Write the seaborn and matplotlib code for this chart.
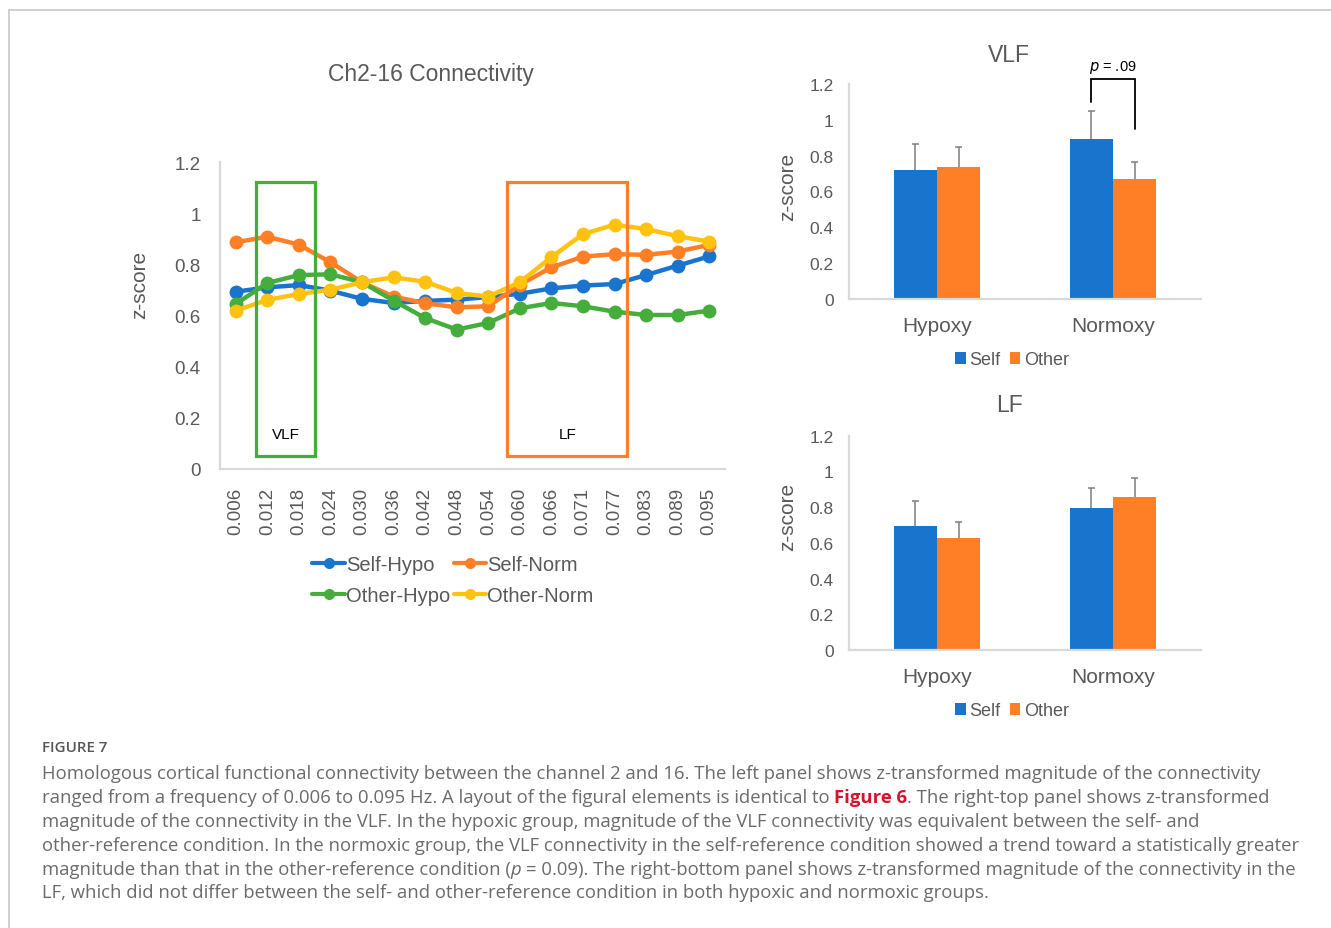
import matplotlib
matplotlib.use("Agg")
import matplotlib.pyplot as plt
from matplotlib.patches import Rectangle
from matplotlib.lines import Line2D
from matplotlib.ticker import FuncFormatter
import seaborn as sns
import pandas as pd
import numpy as np

# ---------------- data ----------------
freqs = ["0.006", "0.012", "0.018", "0.024", "0.030", "0.036", "0.042", "0.048",
         "0.054", "0.060", "0.066", "0.071", "0.077", "0.083", "0.089", "0.095"]
self_hypo = [0.693, 0.710, 0.719, 0.697, 0.665, 0.649, 0.657, 0.662,
             0.672, 0.685, 0.706, 0.717, 0.723, 0.758, 0.795, 0.831]
self_norm = [0.886, 0.908, 0.877, 0.808, 0.730, 0.674, 0.648, 0.632,
             0.636, 0.720, 0.788, 0.830, 0.840, 0.837, 0.850, 0.876]
other_hypo = [0.645, 0.727, 0.758, 0.761, 0.730, 0.658, 0.590, 0.545,
              0.571, 0.628, 0.649, 0.636, 0.615, 0.602, 0.602, 0.619]
other_norm = [0.619, 0.661, 0.684, 0.701, 0.730, 0.749, 0.732, 0.688,
              0.674, 0.730, 0.828, 0.918, 0.955, 0.938, 0.910, 0.889]
series_names = ["Self-Hypo", "Self-Norm", "Other-Hypo", "Other-Norm"]

# frequency bands highlighted (index range on the category axis, z range)
band_labels = ["VLF", "LF"]
band_x = [(0.635, 2.51), (8.6, 12.41)]
band_y = (0.05, 1.12)

groups = ["Hypoxy", "Normoxy"]
conds = ["Self", "Other"]
vlf_self = [0.720, 0.893]
vlf_other = [0.738, 0.670]
vlf_self_err = [0.145, 0.158]
vlf_other_err = [0.108, 0.096]
lf_self = [0.696, 0.793]
lf_other = [0.627, 0.855]
lf_self_err = [0.140, 0.112]
lf_other_err = [0.090, 0.110]
p_text = ".09"

# ---------------- style ----------------
sns.set_style("white")
plt.rcParams["font.family"] = ["Liberation Sans", "DejaVu Sans"]

BLUE = "#1874CD"
ORANGE = "#FF7F27"
GREEN = "#45AD3B"
YELLOW = "#FFC20E"
TXT = "#595959"
AXC = "#D9D9D9"

W, H = 1331, 929
fig = plt.figure(figsize=(W / 100, H / 100), dpi=100)
fig.patch.set_facecolor("white")


def px(x, y):
    return x / W, 1 - y / H


# ---------------- left line chart ----------------
ax = fig.add_axes([220 / W, 1 - 470 / H, 505 / W, 307 / H])
df = pd.DataFrame({
    "freq": freqs * 4,
    "z": self_hypo + self_norm + other_hypo + other_norm,
    "series": sum([[s] * len(freqs) for s in series_names], []),
})
sns.lineplot(data=df, x="freq", y="z", hue="series", hue_order=series_names,
             palette=[BLUE, ORANGE, GREEN, YELLOW], marker="o", markersize=10,
             markeredgewidth=0, linewidth=3.2, sort=False, ax=ax, legend=True)
ax.set_xlim(-0.5, 15.5)
ax.set_ylim(0, 1.2)
ax.set_yticks(np.arange(0, 1.21, 0.2))
ax.yaxis.set_major_formatter(FuncFormatter(lambda v, p: f"{v:g}"))
ax.set_xlabel("")
ax.set_ylabel("")
for s in ["top", "right"]:
    ax.spines[s].set_visible(False)
for s in ["left", "bottom"]:
    ax.spines[s].set_color(AXC)
    ax.spines[s].set_linewidth(1.6)
ax.tick_params(axis="y", direction="in", length=4, color=AXC, labelsize=13.5,
               labelcolor=TXT, pad=14)
ax.tick_params(axis="x", length=0, labelsize=13.5, labelcolor=TXT, pad=13,
               labelrotation=90)

band_colors = [GREEN, ORANGE]
for (x0, x1), lab, c in zip(band_x, band_labels, band_colors):
    ax.add_patch(Rectangle((x0, band_y[0]), x1 - x0, band_y[1] - band_y[0],
                           fill=False, edgecolor=c, linewidth=2.3, zorder=5))
    ax.text((x0 + x1) / 2, 0.137, lab, ha="center", va="center",
            fontsize=11, color="black", zorder=6)

handles, labels = ax.get_legend_handles_labels()
ax.get_legend().remove()
order = [0, 2, 1, 3]
leg_handles = []
for i in order:
    h = handles[i]
    leg_handles.append(Line2D([], [], color=h.get_color(), linewidth=3,
                              marker="o", markersize=8, markeredgewidth=0))
fig.legend(leg_handles, [labels[i] for i in order], ncol=2,
           loc="center", bbox_to_anchor=px(453, 581), frameon=False,
           fontsize=14.5, labelcolor=TXT, handlelength=1.6, handletextpad=0.05,
           columnspacing=0.2, labelspacing=0.6)

fig.text(*px(431, 74), "Ch2-16 Connectivity", ha="center", va="center",
         fontsize=16.5, color=TXT)
fig.text(*px(140, 285), "z-score", ha="center", va="center", rotation=90,
         fontsize=15, color=TXT)


# ---------------- bar charts ----------------
def bar_panel(rect, self_vals, other_vals, self_err, other_err, title,
              title_y, ylabel_y, legend_y):
    bax = fig.add_axes(rect)
    bdf = pd.DataFrame({
        "group": groups * 2,
        "cond": [conds[0]] * len(groups) + [conds[1]] * len(groups),
        "z": self_vals + other_vals,
    })
    sns.barplot(data=bdf, x="group", y="z", hue="cond", hue_order=conds,
                palette=[BLUE, ORANGE], width=0.49, errorbar=None,
                saturation=1, ax=bax, edgecolor="none")
    bax.set_xlim(-0.5, 1.5)
    bax.set_ylim(0, 1.2)
    bax.set_yticks(np.arange(0, 1.21, 0.2))
    bax.yaxis.set_major_formatter(FuncFormatter(lambda v, p: f"{v:g}"))
    bax.set_xlabel("")
    bax.set_ylabel("")
    for s in ["top", "right"]:
        bax.spines[s].set_visible(False)
    for s in ["left", "bottom"]:
        bax.spines[s].set_color(AXC)
        bax.spines[s].set_linewidth(1.6)
    bax.tick_params(axis="y", direction="in", length=4, color=AXC,
                    labelsize=12.5, labelcolor=TXT, pad=11)
    bax.tick_params(axis="x", length=0, labelsize=15, labelcolor=TXT, pad=12.5)

    errs = [self_err, other_err]
    centers = []
    for cont, err in zip(bax.containers, errs):
        row = []
        for bar, e in zip(cont, err):
            xc = bar.get_x() + bar.get_width() / 2
            top = bar.get_height()
            row.append((xc, top))
            bax.vlines(xc, top, top + e, color="#7F7F7F", linewidth=1.1,
                       zorder=4)
            bax.hlines(top + e, xc - 0.018, xc + 0.018, color="#7F7F7F",
                       linewidth=1.1, zorder=4)
        centers.append(row)

    h, l = bax.get_legend_handles_labels()
    if bax.get_legend() is not None:
        bax.get_legend().remove()
    fig.legend(h, l, ncol=2, loc="center", bbox_to_anchor=px(1012, legend_y),
               frameon=False, fontsize=13, labelcolor=TXT, handlelength=0.6,
               handleheight=0.6, handletextpad=0.2, columnspacing=0.5)
    fig.text(*px(1009, title_y), title, ha="center", va="center",
             fontsize=16.5, color=TXT)
    fig.text(*px(788, ylabel_y), "z-score", ha="center", va="center",
             rotation=90, fontsize=15, color=TXT)
    return bax, centers


vax, vc = bar_panel([849 / W, 1 - 300 / H, 352 / W, 215 / H],
                    vlf_self, vlf_other, vlf_self_err, vlf_other_err,
                    "VLF", 55, 187, 361)
lax, lc = bar_panel([849 / W, 1 - 651 / H, 352 / W, 214.3 / H],
                    lf_self, lf_other, lf_self_err, lf_other_err,
                    "LF", 406, 517, 712)

# significance bracket on Normoxy (VLF)
xl = vc[0][1][0]
xr = vc[1][1][0]
vax.plot([xl, xl, xr, xr], [1.10, 1.228, 1.228, 0.95], color="black",
         linewidth=1.3, clip_on=False, zorder=6, solid_joinstyle="miter")
vax.text((xl + xr) / 2, 1.30, "$\\it{p}$ = " + p_text, ha="center",
         va="center", fontsize=10.5, color="black", clip_on=False)

# ---------------- frame ----------------
fig.add_artist(Line2D([9 / W, 1], [1 - 10.5 / H, 1 - 10.5 / H],
                      color="#C8C8C8", linewidth=1.2))
fig.add_artist(Line2D([9 / W, 9 / W], [0, 1 - 10.5 / H],
                      color="#C8C8C8", linewidth=1.2))

# ---------------- caption ----------------
renderer = fig.canvas.get_renderer()
CAP_FONT = ["Open Sans", "DejaVu Sans"]
CAP_COL = "#6B6B6B"


def text_width(s, **kw):
    t = fig.text(0, 0, s, **kw)
    w = t.get_window_extent(renderer).width
    t.remove()
    return w


line1 = ("Homologous cortical functional connectivity between the channel 2 and 16. "
         "The left panel shows z-transformed magnitude of the connectivity")
w10 = text_width(line1, fontsize=10, family=CAP_FONT)
cap_size = 10 * (1259 - 42) / w10

fig.text(*px(42, 752), "FIGURE 7", fontsize=cap_size * 0.82, family=CAP_FONT,
         color="#555555", fontweight="semibold", va="baseline", ha="left")

caption = [
    [(line1, {})],
    [("ranged from a frequency of 0.006 to 0.095 Hz. A layout of the figural elements is identical to ", {}),
     ("Figure 6", {"color": "#D7142B", "fontweight": "bold"}),
     (". The right-top panel shows z-transformed", {})],
    [("magnitude of the connectivity in the VLF. In the hypoxic group, magnitude of the VLF connectivity was equivalent between the self- and", {})],
    [("other-reference condition. In the normoxic group, the VLF connectivity in the self-reference condition showed a trend toward a statistically greater", {})],
    [("magnitude than that in the other-reference condition (", {}),
     ("p", {"fontstyle": "italic"}),
     (" = 0.09). The right-bottom panel shows z-transformed magnitude of the connectivity in the", {})],
    [("LF, which did not differ between the self- and other-reference condition in both hypoxic and normoxic groups.", {})],
]
space_w = (text_width("a a", fontsize=cap_size, family=CAP_FONT)
           - text_width("aa", fontsize=cap_size, family=CAP_FONT))
baseline0 = 779.5
step = 23.8
for i, segs in enumerate(caption):
    y = baseline0 + i * step
    x = 42.0
    for txt, kw in segs:
        lead = len(txt) - len(txt.lstrip(" "))
        trail = len(txt) - len(txt.rstrip(" "))
        x += lead * space_w
        core = txt.strip(" ")
        opts = {"fontsize": cap_size, "family": CAP_FONT, "color": CAP_COL}
        opts.update(kw)
        t = fig.text(x / W, 1 - y / H, core, va="baseline", ha="left", **opts)
        bb = t.get_window_extent(renderer)
        x = bb.x1 + trail * space_w

fig.savefig("out.png", dpi=100, facecolor="white")
